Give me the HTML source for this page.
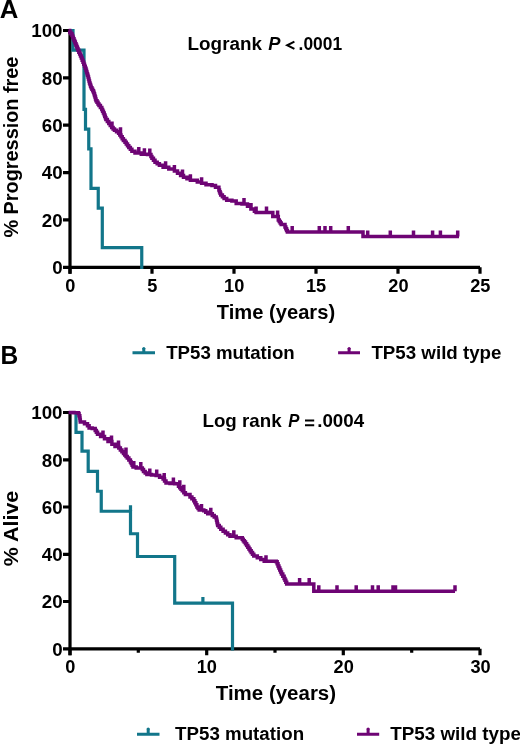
<!DOCTYPE html>
<html><head><meta charset="utf-8"><style>
html,body{margin:0;padding:0;background:#fff;width:520px;height:745px;overflow:hidden;}
svg{display:block;font-family:"Liberation Sans",sans-serif;}
</style></head><body>
<svg width="520" height="745" viewBox="0 0 520 745" style="will-change:transform">
<rect width="520" height="745" fill="#fff"/>
<text transform="translate(-0.17,17.50) scale(1.0303,1)" font-family="Liberation Sans, sans-serif" font-weight="bold" font-size="25.00">A</text>
<path d="M70,29.0 V273.8 M70,267.3 H480" stroke="#000" stroke-width="3.2" fill="none"/>
<path d=" M63,267.3 H70 M63,219.9 H70 M63,172.6 H70 M63,125.2 H70 M63,77.9 H70 M63,30.5 H70 M70.0,267.3 V273.8 M152.0,267.3 V273.8 M234.0,267.3 V273.8 M316.0,267.3 V273.8 M398.0,267.3 V273.8 M480.0,267.3 V273.8" stroke="#000" stroke-width="3.2" fill="none"/>
<text transform="translate(52.25,274.10) scale(1.0700,1)" font-family="Liberation Sans, sans-serif" font-weight="bold" font-size="17.50">0</text>
<text transform="translate(41.76,226.74) scale(1.0700,1)" font-family="Liberation Sans, sans-serif" font-weight="bold" font-size="17.50">20</text>
<text transform="translate(41.76,179.38) scale(1.0700,1)" font-family="Liberation Sans, sans-serif" font-weight="bold" font-size="17.50">40</text>
<text transform="translate(41.76,132.02) scale(1.0700,1)" font-family="Liberation Sans, sans-serif" font-weight="bold" font-size="17.50">60</text>
<text transform="translate(41.76,84.66) scale(1.0700,1)" font-family="Liberation Sans, sans-serif" font-weight="bold" font-size="17.50">80</text>
<text transform="translate(31.28,37.30) scale(1.0700,1)" font-family="Liberation Sans, sans-serif" font-weight="bold" font-size="17.50">100</text>
<text transform="translate(65.30,291.50) scale(1.0400,1)" font-family="Liberation Sans, sans-serif" font-weight="bold" font-size="17.50">0</text>
<text transform="translate(147.20,291.50) scale(1.0400,1)" font-family="Liberation Sans, sans-serif" font-weight="bold" font-size="17.50">5</text>
<text transform="translate(224.02,291.50) scale(1.0400,1)" font-family="Liberation Sans, sans-serif" font-weight="bold" font-size="17.50">10</text>
<text transform="translate(305.93,291.50) scale(1.0400,1)" font-family="Liberation Sans, sans-serif" font-weight="bold" font-size="17.50">15</text>
<text transform="translate(388.29,291.50) scale(1.0400,1)" font-family="Liberation Sans, sans-serif" font-weight="bold" font-size="17.50">20</text>
<text transform="translate(470.20,291.50) scale(1.0400,1)" font-family="Liberation Sans, sans-serif" font-weight="bold" font-size="17.50">25</text>
<text transform="translate(216.80,318.90) scale(1.0077,1)" font-family="Liberation Sans, sans-serif" font-weight="bold" font-size="20.00">Time (years)</text>
<text transform="translate(18.10,237.00) rotate(-90) translate(-0.60,0) scale(0.9939,1)" font-family="Liberation Sans, sans-serif" font-weight="bold" font-size="20.00">% Progression free</text>
<text transform="translate(187.58,49.60) scale(1.0196,1)" font-family="Liberation Sans, sans-serif" font-weight="bold" font-size="18.50">Logrank</text>
<text transform="translate(268.13,49.60) scale(0.9896,1)" font-family="Liberation Sans, sans-serif" font-weight="bold" font-style="italic" font-size="18.50">P</text>
<path d="M294.4,41.7 L287.2,45.25 L294.4,48.8" stroke="#000" stroke-width="2" fill="none" stroke-linejoin="miter"/>
<text transform="translate(298.58,49.60) scale(0.9398,1)" font-family="Liberation Sans, sans-serif" font-weight="bold" font-size="18.50">.0001</text>
<text transform="translate(0.58,363.90) scale(0.9836,1)" font-family="Liberation Sans, sans-serif" font-weight="bold" font-size="25.00">B</text>
<path d="M70,411.0 V655.3 M70,648.8 H480" stroke="#000" stroke-width="3.2" fill="none"/>
<path d=" M63,648.8 H70 M63,601.5 H70 M63,554.3 H70 M63,507.0 H70 M63,459.8 H70 M63,412.5 H70 M70.0,648.8 V655.3 M206.7,648.8 V655.3 M343.3,648.8 V655.3 M480.0,648.8 V655.3 M138.3,648.8 V652.8 M275.0,648.8 V652.8 M411.7,648.8 V652.8" stroke="#000" stroke-width="3.2" fill="none"/>
<text transform="translate(52.25,655.60) scale(1.0700,1)" font-family="Liberation Sans, sans-serif" font-weight="bold" font-size="17.50">0</text>
<text transform="translate(41.76,608.34) scale(1.0700,1)" font-family="Liberation Sans, sans-serif" font-weight="bold" font-size="17.50">20</text>
<text transform="translate(41.76,561.08) scale(1.0700,1)" font-family="Liberation Sans, sans-serif" font-weight="bold" font-size="17.50">40</text>
<text transform="translate(41.76,513.82) scale(1.0700,1)" font-family="Liberation Sans, sans-serif" font-weight="bold" font-size="17.50">60</text>
<text transform="translate(41.76,466.56) scale(1.0700,1)" font-family="Liberation Sans, sans-serif" font-weight="bold" font-size="17.50">80</text>
<text transform="translate(31.28,419.30) scale(1.0700,1)" font-family="Liberation Sans, sans-serif" font-weight="bold" font-size="17.50">100</text>
<text transform="translate(65.30,673.00) scale(1.0400,1)" font-family="Liberation Sans, sans-serif" font-weight="bold" font-size="17.50">0</text>
<text transform="translate(196.72,673.00) scale(1.0400,1)" font-family="Liberation Sans, sans-serif" font-weight="bold" font-size="17.50">10</text>
<text transform="translate(333.59,673.00) scale(1.0400,1)" font-family="Liberation Sans, sans-serif" font-weight="bold" font-size="17.50">20</text>
<text transform="translate(470.38,673.00) scale(1.0400,1)" font-family="Liberation Sans, sans-serif" font-weight="bold" font-size="17.50">30</text>
<text transform="translate(215.80,700.30) scale(1.0241,1)" font-family="Liberation Sans, sans-serif" font-weight="bold" font-size="20.00">Time (years)</text>
<text transform="translate(18.00,565.50) rotate(-90) translate(-0.64,0) scale(1.0723,1)" font-family="Liberation Sans, sans-serif" font-weight="bold" font-size="20.00">% Alive</text>
<text transform="translate(202.49,426.80) scale(1.0120,1)" font-family="Liberation Sans, sans-serif" font-weight="bold" font-size="18.50">Log rank</text>
<text transform="translate(288.16,426.80) scale(0.9064,1)" font-family="Liberation Sans, sans-serif" font-weight="bold" font-style="italic" font-size="18.50">P</text>
<path d="M305,419.6 h9.2 v2 h-9.2 z M305,424.2 h9.2 v2 h-9.2 z" fill="#000"/>
<text transform="translate(317.19,426.60) scale(1.0143,1)" font-family="Liberation Sans, sans-serif" font-weight="bold" font-size="18.50">.0004</text>
<path d="M71.5,30.5 H73 V50.2 H84 V109.4 H85.5 V129.2 H88.75 V148.9 H91 V188.4 H98.25 V208.1 H102.3 V247.6 H141.75 V267.3" stroke="#12768a" stroke-width="3.2" fill="none" stroke-linecap="square"/>
<path d="M68.6,30.5 H69.73 V32.17 H70.87 V33.83 H72.00 V35.50 H72.67 V37.17 H73.33 V38.83 H74.00 V40.50 H74.67 V42.10 H75.33 V43.70 H76.00 V45.30 H76.67 V46.93 H77.33 V48.57 H78.00 V50.20 H78.83 V52.13 H79.67 V54.07 H80.50 V56.00 H81.33 V58.07 H82.17 V60.13 H83.00 V62.20 H83.75 V64.22 H84.50 V66.25 H85.25 V68.28 H86.00 V70.30 H86.50 V71.97 H87.00 V73.65 H87.50 V75.33 H88.00 V77.00 H88.50 V79.00 H89.00 V81.00 H89.50 V83.00 H90.03 V84.57 H90.57 V86.13 H91.10 V87.70 H91.90 V89.23 H92.70 V90.77 H93.50 V92.30 H94.00 V93.87 H94.50 V95.43 H95.00 V97.00 H95.50 V98.90 H96.00 V100.80 H97.00 V102.37 H98.00 V103.93 H99.00 V105.50 H100.40 V107.55 H101.80 V109.60 H102.60 V111.33 H103.40 V113.07 H104.20 V114.80 H104.77 V116.33 H105.33 V117.87 H105.90 V119.40 H107.35 V121.40 H108.80 V123.40 H110.25 V125.45 H111.70 V127.50 H113.10 V128.90 H114.50 V130.30 H116.55 V131.75 H118.60 V133.20 H119.80 V135.02 H121.00 V136.85 H122.20 V138.68 H123.40 V140.50 H125.00 V142.30 H126.27 V144.03 H127.53 V145.77 H128.80 V147.50 H130.35 V149.35 H131.90 V151.20 H135.00 V153.00 H141.30 V154.20 H147.50 V154.40 H150.00 V154.60 H150.95 V156.40 H151.90 V158.20 H153.45 V160.25 H155.00 V162.30 H157.20 V163.75 H159.40 V165.20 H163.10 V167.20 H168.80 V168.90 H174.40 V170.90 H177.50 V173.20 H180.60 V175.60 H183.50 V177.30 H186.95 V178.75 H190.40 V180.20 H197.30 V182.10 H201.60 V183.30 H206.00 V184.70 H212.00 V185.60 H215.50 V187.30 H218.90 V189.90 H219.50 V191.63 H220.10 V193.37 H220.70 V195.10 H222.40 V196.80 H224.10 V198.50 H226.70 V200.30 H231.90 V201.10 H236.20 V203.40 H242.00 V204.10 H247.50 V206.30 H250.90 V208.90 H254.40 V211.20 H256.10 V212.60 H272.80 V212.70 H272.80 V214.60 H272.80 V216.50 H278.30 V216.50 H278.30 V218.25 H278.30 V220.00 H279.27 V221.53 H280.23 V223.07 H281.20 V224.60 H285.00 V227.00 H285.80 V228.70 H286.60 V230.40 H287.40 V232.10 H363.00 V232.10 H363.00 V234.25 H363.00 V236.40 H459.00 V236.40 M277.6,216.5 V210.5 M112.0,127.5 V121.5 M120.5,133.2 V127.2 M138.8,153.0 V147.0 M144.4,154.2 V148.2 M149.8,154.4 V148.4 M165.6,167.2 V161.2 M174.4,170.9 V164.9 M182.5,175.6 V169.6 M190.4,180.2 V174.2 M201.6,183.3 V177.3 M244.0,204.1 V198.1 M251.0,208.9 V202.9 M256.1,212.6 V206.6 M266.5,212.6 V206.6 M292.2,232.1 V226.1 M319.3,232.1 V226.1 M325.0,232.1 V226.1 M330.7,232.1 V226.1 M348.3,232.1 V226.1 M367.7,236.4 V230.4 M390.3,236.4 V230.4 M413.5,236.4 V230.4 M432.6,236.4 V230.4 M440.4,236.4 V230.4 M457.7,236.4 V230.4" stroke="#6e0474" stroke-width="3.5" fill="none"/>
<path d="M71.5,412.5 H76 V432.4 H82 V451.2 H88.2 V471.3 H97.5 V491.25 H101.25 V511.25 H130.5 V533.75 H137.5 V556.5 H174.7 V603.1 H232.5 V648.8" stroke="#12768a" stroke-width="3.2" fill="none" stroke-linecap="square"/>
<path d=" M130.5,511.2 V505.2 M202.9,603.1 V597.1" stroke="#12768a" stroke-width="3.2" fill="none"/>
<path d="M68.6,412.5 H74.00 V412.80 H78.30 V413.60 H79.05 V415.80 H79.80 V418.00 H80.05 V419.95 H80.30 V421.90 H84.50 V423.80 H87.50 V425.80 H89.10 V428.10 H92.20 V428.50 H95.20 V430.40 H96.35 V432.30 H97.50 V434.20 H100.60 V436.50 H104.50 V438.80 H108.00 V441.50 H111.90 V444.20 H115.00 V446.50 H118.80 V448.10 H120.37 V449.90 H121.93 V451.70 H123.50 V453.50 H124.77 V455.03 H126.03 V456.57 H127.30 V458.10 H128.85 V460.00 H130.40 V461.90 H131.27 V463.60 H132.13 V465.30 H133.00 V467.00 H136.20 V468.10 H142.30 V469.60 H143.50 V471.50 H145.20 V472.95 H146.90 V474.40 H151.50 V475.00 H156.10 V475.60 H159.60 V477.30 H163.10 V479.00 H164.55 V481.05 H166.00 V483.10 H170.00 V483.50 H174.60 V483.80 H178.50 V486.20 H179.77 V487.73 H181.03 V489.27 H182.30 V490.80 H183.85 V492.70 H185.40 V494.60 H190.00 V496.90 H191.90 V498.85 H193.80 V500.80 H194.83 V502.83 H195.87 V504.87 H196.90 V506.90 H198.05 V508.45 H199.20 V510.00 H203.80 V510.80 H205.75 V512.30 H207.70 V513.80 H212.30 V515.40 H214.25 V516.95 H216.20 V518.50 H216.57 V520.23 H216.95 V521.95 H217.32 V523.67 H217.70 V525.40 H219.25 V527.30 H220.80 V529.20 H223.10 V531.15 H225.40 V533.10 H227.70 V534.65 H230.00 V536.20 H236.20 V537.70 H242.30 V539.20 H243.30 V540.65 H244.30 V542.10 H245.47 V543.83 H246.63 V545.57 H247.80 V547.30 H248.93 V549.03 H250.07 V550.77 H251.20 V552.50 H252.50 V554.25 H253.80 V556.00 H257.30 V557.70 H260.80 V559.40 H264.20 V561.30 H276.30 V561.80 H277.17 V563.87 H278.03 V565.93 H278.90 V568.00 H279.77 V570.03 H280.63 V572.07 H281.50 V574.10 H282.80 V576.25 H284.10 V578.40 H284.97 V580.27 H285.83 V582.13 H286.70 V584.00 H313.80 V584.00 H313.80 V585.83 H313.80 V587.65 H313.80 V589.47 H313.80 V591.30 H455.00 V591.30 M103.0,436.5 V430.5 M111.5,441.5 V435.5 M118.5,446.5 V440.5 M126.0,453.5 V447.5 M133.8,467.0 V461.0 M140.8,468.1 V462.1 M149.8,474.4 V468.4 M156.7,475.6 V469.6 M164.2,479.0 V473.0 M173.4,483.5 V477.5 M179.8,486.2 V480.2 M183.8,490.8 V484.8 M201.5,510.0 V504.0 M210.8,513.8 V507.8 M233.8,536.2 V530.2 M266.0,561.3 V555.3 M299.6,584.0 V578.0 M309.2,584.0 V578.0 M318.8,591.3 V585.3 M337.0,591.3 V585.3 M356.2,591.3 V585.3 M372.5,591.3 V585.3 M378.2,591.3 V585.3 M393.0,591.3 V585.3 M395.5,591.3 V585.3 M455.0,591.3 V585.3" stroke="#6e0474" stroke-width="3.5" fill="none"/>
<path d="M132.5,352.8 H155.0 M143.8,352.8 V348.0" stroke="#12768a" stroke-width="3" fill="none"/>
<circle cx="143.8" cy="348.5" r="1.5" fill="#12768a"/>
<text transform="translate(166.21,358.90) scale(1.0666,1)" font-family="Liberation Sans, sans-serif" font-weight="bold" font-size="17.50">TP53 mutation</text>
<path d="M338.1,352.8 H360.0 M349.1,352.8 V348.0" stroke="#6e0474" stroke-width="3" fill="none"/>
<circle cx="349.1" cy="348.5" r="1.5" fill="#6e0474"/>
<text transform="translate(371.41,358.90) scale(1.0716,1)" font-family="Liberation Sans, sans-serif" font-weight="bold" font-size="17.50">TP53 wild type</text>
<path d="M137.0,734.3 H159.5 M148.2,734.3 V728.4" stroke="#12768a" stroke-width="3" fill="none"/>
<circle cx="148.2" cy="728.9" r="1.5" fill="#12768a"/>
<text transform="translate(175.11,740.40) scale(1.0708,1)" font-family="Liberation Sans, sans-serif" font-weight="bold" font-size="17.50">TP53 mutation</text>
<path d="M357.0,734.3 H379.2 M368.1,734.3 V728.4" stroke="#6e0474" stroke-width="3" fill="none"/>
<circle cx="368.1" cy="728.9" r="1.5" fill="#6e0474"/>
<text transform="translate(390.21,740.40) scale(1.0766,1)" font-family="Liberation Sans, sans-serif" font-weight="bold" font-size="17.50">TP53 wild type</text>
</svg>
</body></html>
